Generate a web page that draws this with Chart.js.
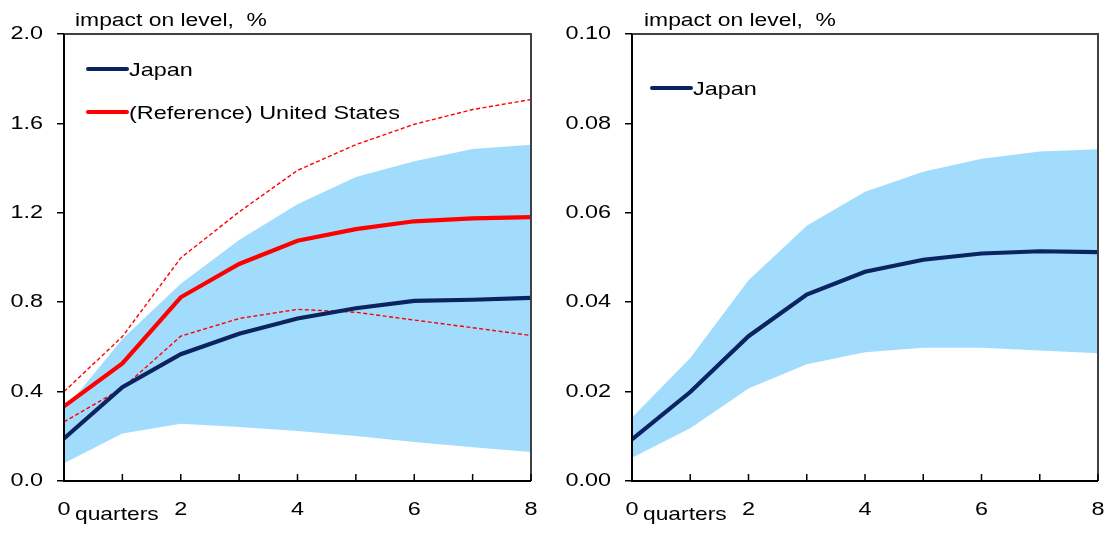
<!DOCTYPE html>
<html>
<head>
<meta charset="utf-8">
<script src="https://cdn.jsdelivr.net/npm/chart.js@4"></script>
<style>
html,body{margin:0;padding:0;background:#fff;}
#w{position:relative;width:1113px;height:534px;}
#c1{position:absolute;left:0;top:0;}
#c2{position:absolute;left:560px;top:0;}
</style>
</head>
<body>
<div id="w">
<canvas id="c1" width="560" height="534"></canvas>
<canvas id="c2" width="553" height="534"></canvas>
</div>
<script>
const quarters = ['0','1','2','3','4','5','6','7','8'];
// Left panel
const jpLeft      = [0.19, 0.42, 0.567, 0.659, 0.727, 0.773, 0.806, 0.811, 0.819];
const jpBandUpper = [0.317, 0.635, 0.883, 1.078, 1.238, 1.36, 1.431, 1.485, 1.505];
const jpBandLower = [0.079, 0.213, 0.256, 0.242, 0.224, 0.201, 0.175, 0.151, 0.13];
const usCentral   = [0.334, 0.526, 0.822, 0.971, 1.075, 1.127, 1.162, 1.175, 1.181];
const usUpper     = [0.40, 0.646, 0.998, 1.204, 1.39, 1.505, 1.596, 1.662, 1.707];
const usLower     = [0.265, 0.415, 0.648, 0.727, 0.768, 0.755, 0.72, 0.686, 0.651];
const leftTicks   = [0, 0.4, 0.8, 1.2, 1.6, 2.0];
// Right panel
const jpRight      = [0.0093, 0.0199, 0.0324, 0.0417, 0.0468, 0.0495, 0.0509, 0.0514, 0.0512];
const jpRightUpper = [0.0142, 0.0275, 0.0449, 0.0571, 0.0647, 0.0692, 0.0721, 0.0737, 0.0742];
const jpRightLower = [0.0052, 0.0118, 0.0207, 0.0261, 0.0288, 0.0298, 0.0298, 0.0292, 0.0286];
const rightTicks   = [0, 0.02, 0.04, 0.06, 0.08, 0.10];

const FONT = '"Liberation Sans", Arial, sans-serif';
const NAVY = '#0b2460';
const RED = '#ff0000';
const BAND = '#a2dcfc';
const SX = 1.26;

function txt(ctx, s, x, y, size, sx, align, base){
  ctx.save();
  ctx.font = size + 'px ' + FONT;
  ctx.textAlign = align || 'left';
  ctx.textBaseline = base || 'alphabetic';
  ctx.translate(x, y); ctx.scale(sx, 1);
  ctx.fillStyle = '#000';
  ctx.fillText(s, 0, 0);
  ctx.restore();
}

function decorPlugin(opts){
  return {
    id:'decor',
    afterDraw(chart){
      const ctx = chart.ctx, a = chart.chartArea, xs = chart.scales.x, ys = chart.scales.y;
      ctx.save();
      ctx.strokeStyle = '#404040'; ctx.lineWidth = 2;
      ctx.beginPath(); ctx.moveTo(a.left, a.top); ctx.lineTo(a.right, a.top); ctx.lineTo(a.right, a.bottom); ctx.stroke();
      ctx.strokeStyle = '#000'; ctx.lineWidth = 2;
      ctx.beginPath(); ctx.moveTo(a.left, a.top); ctx.lineTo(a.left, a.bottom); ctx.lineTo(a.right, a.bottom); ctx.stroke();
      ctx.lineWidth = 1.5;
      for (let i = 1; i < quarters.length; i++){
        const px = xs.getPixelForValue(i);
        ctx.beginPath(); ctx.moveTo(px, a.bottom); ctx.lineTo(px, a.bottom - 7); ctx.stroke();
      }
      ctx.restore();
      // y tick labels
      opts.yTicks.forEach(v => {
        txt(ctx, v.toFixed(opts.decimals), a.left - 21, ys.getPixelForValue(v), 18.6, SX, 'right', 'middle');
      });
      // x tick labels
      quarters.forEach((q, i) => {
        if (i % 2 === 0) txt(ctx, q, xs.getPixelForValue(i), 515, 18.6, SX, 'center');
      });
      txt(ctx, 'impact on level,  %', opts.titleX, 26, 17.6, 1.3, 'left');
      txt(ctx, 'quarters', opts.qX, 520, 19, 1.2, 'left');
      opts.legend.forEach(l => {
        ctx.save();
        ctx.strokeStyle = l.color; ctx.lineWidth = 4; ctx.lineCap = 'round';
        ctx.beginPath(); ctx.moveTo(l.x1, l.y); ctx.lineTo(l.x2, l.y); ctx.stroke();
        ctx.restore();
        txt(ctx, l.text, l.x2 + 2, l.y + 6.5, 18.6, SX, 'left');
      });
    }
  };
}

function makeOptions(yMin, yMax, yTicks, yWidth, padRight){
  return {
    responsive:false, animation:false,
    layout:{padding:{top:34, right:padRight, left:0, bottom:0}},
    plugins:{legend:{display:false}, tooltip:{enabled:false}},
    elements:{point:{radius:0}, line:{tension:0}},
    scales:{
      x:{
        type:'category', offset:false,
        grid:{display:false, drawTicks:false},
        border:{display:false},
        ticks:{display:false},
        afterFit:(s)=>{ s.height = 53; }
      },
      y:{
        min:yMin, max:yMax,
        afterBuildTicks:(s)=>{ s.ticks = yTicks.map(v=>({value:v})); },
        grid:{drawOnChartArea:false, drawTicks:true, tickLength:7, color:'#000', lineWidth:1.5},
        border:{display:false},
        ticks:{display:false},
        afterFit:(s)=>{ s.width = yWidth; }
      }
    }
  };
}

new Chart(document.getElementById('c1'), {
  type:'line',
  data:{
    labels:quarters,
    datasets:[
      {data:jpBandLower, borderWidth:0, borderColor:'rgba(0,0,0,0)', fill:false, order:10},
      {data:jpBandUpper, borderWidth:0, borderColor:'rgba(0,0,0,0)', backgroundColor:BAND, fill:'-1', order:9},
      {data:usUpper, borderColor:RED, borderWidth:1.4, borderDash:[4,2.5], fill:false, order:5},
      {data:usLower, borderColor:RED, borderWidth:1.4, borderDash:[4,2.5], fill:false, order:4},
      {data:jpLeft, borderColor:NAVY, borderWidth:4.2, fill:false, order:2},
      {data:usCentral, borderColor:RED, borderWidth:4.2, fill:false, order:1}
    ]
  },
  options:makeOptions(0, 2.0, leftTicks, 64, 29),
  plugins:[decorPlugin({yTicks:leftTicks, decimals:1, titleX:75, qX:75, legend:[
    {x1:88, x2:127, y:69, color:NAVY, text:'Japan'},
    {x1:88, x2:127, y:112, color:RED, text:'(Reference) United States'}
  ]})]
});

new Chart(document.getElementById('c2'), {
  type:'line',
  data:{
    labels:quarters,
    datasets:[
      {data:jpRightLower, borderWidth:0, borderColor:'rgba(0,0,0,0)', fill:false, order:10},
      {data:jpRightUpper, borderWidth:0, borderColor:'rgba(0,0,0,0)', backgroundColor:BAND, fill:'-1', order:9},
      {data:jpRight, borderColor:NAVY, borderWidth:4.2, fill:false, order:1}
    ]
  },
  options:makeOptions(0, 0.10, rightTicks, 72, 15),
  plugins:[decorPlugin({yTicks:rightTicks, decimals:2, titleX:84, qX:83, legend:[
    {x1:92, x2:131, y:88, color:NAVY, text:'Japan'}
  ]})]
});
</script>
</body>
</html>
